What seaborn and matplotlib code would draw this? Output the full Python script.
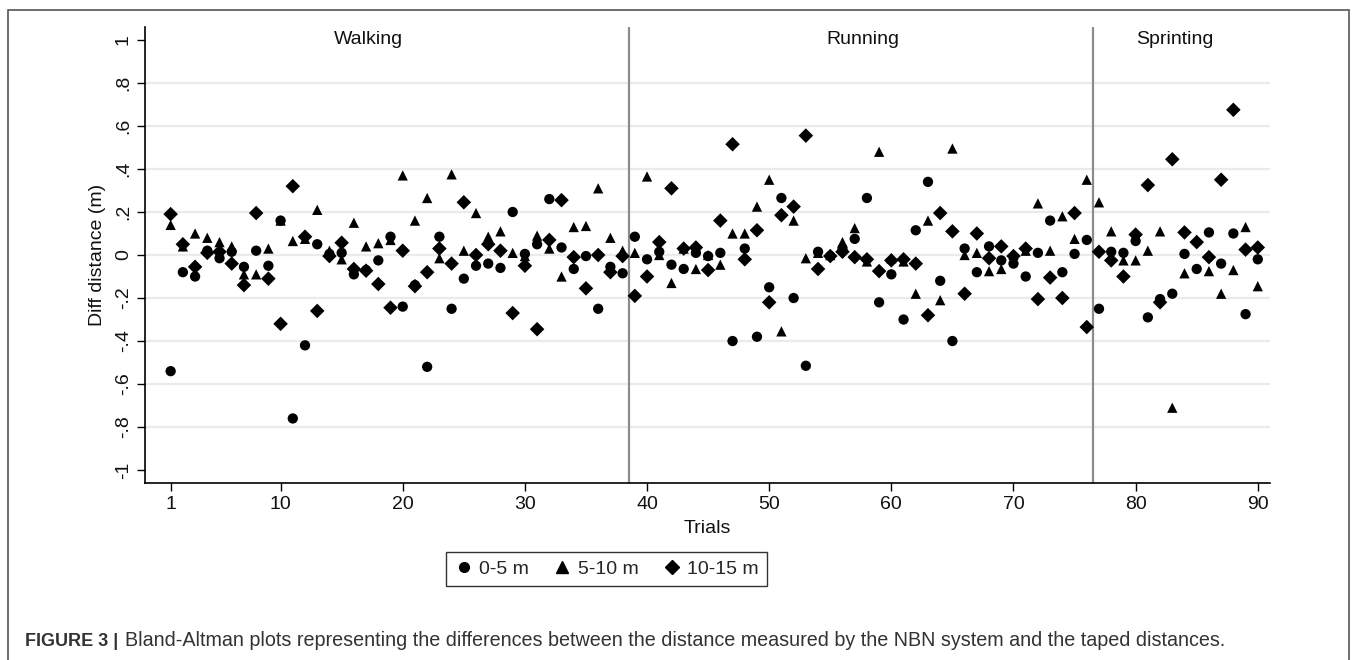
import numpy as np
import pandas as pd
import matplotlib
matplotlib.use("Agg")
import matplotlib.pyplot as plt
import seaborn as sns
from matplotlib.patches import Rectangle

# data
trials = list(range(1, 91))

diff_0_5 = [
    -0.54, -0.08, -0.10, 0.02, -0.015, 0.015, -0.055, 0.02, -0.05, 0.16,
    -0.76, -0.42, 0.05, 0.005, 0.01, -0.09, -0.07, -0.025, 0.085, -0.24,
    -0.14, -0.52, 0.085, -0.25, -0.11, -0.05, -0.04, -0.06, 0.20, 0.005,
    0.05, 0.26, 0.035, -0.065, -0.005, -0.25, -0.055, -0.085, 0.085, -0.02,
    0.015, -0.045, -0.065, 0.01, -0.005, 0.01, -0.40, 0.03, -0.38, -0.15,
    0.265, -0.20, -0.515, 0.015, -0.005, 0.03, 0.075, 0.265, -0.22, -0.09,
    -0.30, 0.115, 0.34, -0.12, -0.40, 0.03, -0.08, 0.04, -0.025, -0.04,
    -0.10, 0.01, 0.16, -0.08, 0.005, 0.07, -0.25, 0.015, 0.01, 0.065,
    -0.29, -0.205, -0.18, 0.005, -0.065, 0.105, -0.04, 0.10, -0.275, -0.02,
]
diff_5_10 = [
    0.14, 0.04, 0.10, 0.08, 0.06, 0.04, -0.09, -0.09, 0.03, 0.16,
    0.065, 0.075, 0.21, 0.02, -0.02, 0.15, 0.04, 0.055, 0.07, 0.37,
    0.16, 0.265, -0.015, 0.375, 0.02, 0.195, 0.085, 0.11, 0.01, -0.005,
    0.09, 0.03, -0.10, 0.13, 0.135, 0.31, 0.08, 0.02, 0.01, 0.365,
    0.0, -0.13, 0.03, -0.065, 0.0, -0.045, 0.10, 0.10, 0.225, 0.35,
    -0.355, 0.16, -0.015, 0.01, 0.0, 0.06, 0.125, -0.03, 0.48, -0.015,
    -0.03, -0.18, 0.16, -0.21, 0.495, 0.0, 0.01, -0.075, -0.065, 0.0,
    0.02, 0.24, 0.02, 0.18, 0.075, 0.35, 0.245, 0.11, -0.025, -0.025,
    0.02, 0.11, -0.71, -0.085, 0.07, -0.075, -0.18, -0.07, 0.13, -0.145,
]
diff_10_15 = [
    0.19, 0.05, -0.055, 0.01, 0.015, -0.04, -0.14, 0.195, -0.11, -0.32,
    0.32, 0.085, -0.26, -0.005, 0.057, -0.065, -0.073, -0.135, -0.245, 0.02,
    -0.145, -0.08, 0.03, -0.04, 0.245, 0.0, 0.05, 0.02, -0.27, -0.05,
    -0.345, 0.07, 0.255, -0.01, -0.155, 0.0, -0.08, -0.005, -0.19, -0.10,
    0.06, 0.31, 0.03, 0.035, -0.07, 0.16, 0.515, -0.02, 0.115, -0.22,
    0.185, 0.225, 0.555, -0.065, -0.005, 0.015, -0.01, -0.02, -0.075, -0.025,
    -0.02, -0.04, -0.28, 0.195, 0.11, -0.18, 0.10, -0.015, 0.04, -0.005,
    0.03, -0.205, -0.105, -0.20, 0.195, -0.335, 0.015, -0.025, -0.10, 0.095,
    0.325, -0.22, 0.445, 0.105, 0.06, -0.01, 0.35, 0.675, 0.025, 0.035,
]

series_names = ["0-5 m", "5-10 m", "10-15 m"]
phase_names = ["Walking", "Running", "Sprinting"]
phase_label_x = [17.2, 57.7, 83.2]
phase_breaks = [38.5, 76.5]
y_ticks = [1, 0.8, 0.6, 0.4, 0.2, 0, -0.2, -0.4, -0.6, -0.8, -1]
y_tick_labels = ["1", ".8", ".6", ".4", ".2", "0", "-.2", "-.4", "-.6", "-.8", "-1"]
x_ticks = [1, 10, 20, 30, 40, 50, 60, 70, 80, 90]

df = pd.DataFrame({
    "Trial": trials * 3,
    "Diff": diff_0_5 + diff_5_10 + diff_10_15,
    "Distance": [n for n in series_names for _ in trials],
})

sns.set_theme(style="white")
plt.rcParams["font.family"] = ["Liberation Sans", "DejaVu Sans"]

fig = plt.figure(figsize=(13.57, 6.6), dpi=100)
ax = fig.add_axes([145 / 1357, 1 - 483 / 660, (1270 - 145) / 1357, (483 - 27) / 660])

# light grid at inner ticks only
for yv in y_ticks[1:-1]:
    ax.axhline(yv, color="#ebebeb", lw=1.6, zorder=0)

for xb in phase_breaks:
    ax.axvline(xb, color="#8c8c8c", lw=1.6, zorder=1)

sns.scatterplot(
    data=df, x="Trial", y="Diff", style="Distance",
    markers={"0-5 m": "o", "5-10 m": "^", "10-15 m": "D"},
    color="black", s=55, edgecolor="none", ax=ax, legend=False, zorder=3,
)

for name, xp in zip(phase_names, phase_label_x):
    ax.text(xp, 1.0, name, ha="center", va="center", fontsize=14, color="#111111")

ax.set_xlim(-1.1, 91)
ax.set_ylim(-1.06, 1.06)
ax.set_xticks(x_ticks)
ax.set_yticks(y_ticks)
ax.set_yticklabels(y_tick_labels, rotation=90, va="center")
ax.tick_params(axis="both", direction="out", length=6, width=1, color="black",
               labelsize=14, labelcolor="#111111", left=True, bottom=True)
ax.set_xlabel("Trials", fontsize=14, color="#111111", labelpad=5)
ax.set_ylabel("Diff distance (m)", fontsize=14, color="#111111", labelpad=6)

for side in ["top", "right"]:
    ax.spines[side].set_visible(False)
for side in ["left", "bottom"]:
    ax.spines[side].set_color("black")
    ax.spines[side].set_linewidth(1.2)

# legend below the axis
handles = [
    plt.Line2D([], [], marker=m, color="black", linestyle="none", markersize=ms)
    for m, ms in zip(["o", "^", "D"], [7, 8, 7])
]
leg = fig.legend(handles, series_names, loc="center", ncol=3,
                 bbox_to_anchor=(606.5 / 1357, 1 - 569 / 660), bbox_transform=fig.transFigure,
                 fontsize=14, frameon=True, fancybox=False, edgecolor="black",
                 handletextpad=0.3, columnspacing=1.2, borderpad=0.4, handlelength=1.0)
leg.get_frame().set_linewidth(1.0)

# caption box and caption text
fig.patches.append(Rectangle((8 / 1357, -0.05), (1349 - 8) / 1357, 1.05 - 10 / 660,
                             transform=fig.transFigure, fill=False,
                             edgecolor="#555555", lw=1.2))
fig.text(25 / 1357, 1 - 641 / 660, "FIGURE 3 |", fontsize=13, fontweight="bold",
         color="#333333", va="center", ha="left")
fig.text(125 / 1357, 1 - 641 / 660,
         "Bland-Altman plots representing the differences between the distance measured by the NBN system and the taped distances.",
         fontsize=14.2, color="#333333", va="center", ha="left")

fig.savefig("out.png", dpi=100)
